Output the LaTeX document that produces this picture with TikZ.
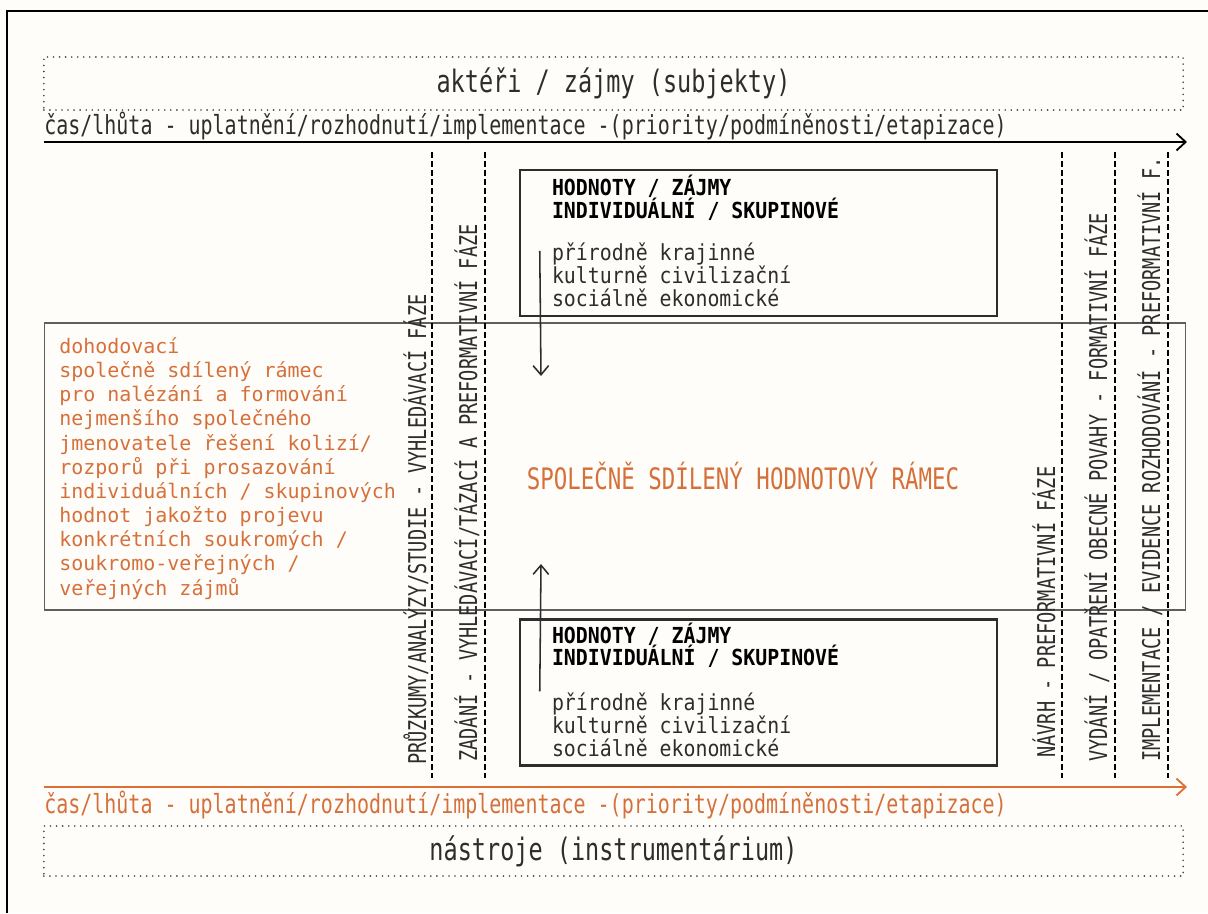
\documentclass[tikz,border=0pt]{standalone}
\usepackage{fontspec}
\usepackage{tikz}
\usetikzlibrary{arrows.meta,calc}
\newfontfamily\condmono[FakeStretch=0.76]{DejaVu Sans Mono}
\newfontfamily\boxmono[FakeStretch=0.9]{DejaVu Sans Mono}
\newfontfamily\plainmono{DejaVu Sans Mono}
\newcommand\tightskip{\setlength{\lineskiplimit}{-20pt}}
\definecolor{TxtGray}{RGB}{45,45,45}
\definecolor{LineGray}{RGB}{95,95,95}
\definecolor{DotGray}{RGB}{70,70,70}
\definecolor{OrgLine}{RGB}{222,110,52}
\definecolor{OrgText}{RGB}{214,112,58}
\definecolor{BgCream}{RGB}{254,253,250}
\tikzset{
  nd_dot/.style={
    rectangle, draw=DotGray, line width=1.3pt, line cap=round,
    dash pattern=on 0pt off 4.3pt, inner sep=0pt,
    text=TxtGray, font=\condmono\fontsize{22pt}{24pt}\selectfont},
  nd_val/.style={
    rectangle, draw=TxtGray, line width=1.7pt, inner sep=0pt,
    minimum width=11.925cm, minimum height=3.65cm},
  nd_head/.style={
    anchor=north west, align=left, inner sep=0pt, text=black,
    font=\tightskip\boxmono\bfseries\fontsize{15.7pt}{16pt}\selectfont},
  nd_list/.style={
    anchor=north west, align=left, inner sep=0pt, text=TxtGray,
    font=\tightskip\boxmono\fontsize{15.7pt}{16.3pt}\selectfont},
  nd_frame/.style={
    rectangle, draw=LineGray, line width=0.8pt, inner sep=0pt},
  nd_note/.style={
    anchor=north west, align=left, inner sep=0pt, text=OrgText,
    font=\plainmono\fontsize{14.2pt}{17.2pt}\selectfont},
  nd_core/.style={
    inner sep=0pt, text=OrgText,
    font=\condmono\fontsize{21pt}{22pt}\selectfont},
  nd_phase/.style={
    rotate=90, anchor=west, inner sep=0pt, text=TxtGray,
    font=\condmono\fontsize{17.4pt}{18pt}\selectfont},
  lbl_time/.style={
    anchor=base west, inner sep=0pt,
    font=\condmono\fontsize{18.7pt}{20pt}\selectfont},
  arr_time/.style={-{Straight Barb[length=6.5pt,width=12pt,line width=1.3pt]},line width=1.5pt},
  arr_val/.style={-{Straight Barb[length=6.5pt,width=11pt,line width=1.1pt]},line width=1.1pt,TxtGray},
  div_dash/.style={line width=1.5pt,dash pattern=on 4.2pt off 2.2pt},
}

\begin{document}
\begin{tikzpicture}[x=0.025cm,y=-0.025cm]

%% canvas and frame
\fill[BgCream] (0,0) rectangle (1208,913);
\useasboundingbox (0,0) rectangle (1208,913);
\draw[line width=2pt] (7,913)--(7,11)--(1208,11);

%% ── TOP: actors and time axis ───────────────────────────────
\node[nd_dot,minimum width=28.475cm,minimum height=1.325cm] at (613.5,83.5) (actors){aktéři / zájmy (subjekty)};
\coordinate (TL) at (44,142);
\coordinate (TR) at (1187,142);
\draw[arr_time] (TL)--(TR);
\node[lbl_time,text=TxtGray] at (44,134) (timeT){čas/lhůta - uplatnění/rozhodnutí/implementace -(priority/podmíněnosti/etapizace)};

%% ── shared frame ────────────────────────────────────────────
\node[nd_frame,minimum width=28.5cm,minimum height=7.175cm] at (615,466.5) (frame){};
\node[nd_note] at (59,337) (note){dohodovací\\
  společně sdílený rámec\\
  pro nalézání a formování\\
  nejmenšího společného\\
  jmenovatele řešení kolizí/\\
  rozporů při prosazování\\
  individuálních / skupinových\\
  hodnot jakožto projevu\\
  konkrétních soukromých /\\
  soukromo-veřejných /\\
  veřejných zájmů};
\node[nd_core] at (743,476) (core){SPOLEČNĚ SDÍLENÝ HODNOTOVÝ RÁMEC};

%% phase dividers
\foreach \x in {432,485,1062,1115,1168}
  \draw[div_dash] (\x,152)--(\x,778);

%% phase labels
\node[nd_phase] at (416,765) (ph1){PRŮZKUMY/ANALÝZY/STUDIE - VYHLEDÁVACÍ FÁZE};
\node[nd_phase] at (467,762) (ph2){ZADÁNÍ - VYHLEDÁVACÍ/TÁZACÍ A PREFORMATIVNÍ FÁZE};
\node[nd_phase] at (1044,758) (ph3){NÁVRH - PREFORMATIVNÍ FÁZE};
\node[nd_phase] at (1097,762) (ph4){VYDÁNÍ / OPATŘENÍ OBECNÉ POVAHY - FORMATIVNÍ FÁZE};
\node[nd_phase] at (1150,762) (ph5){IMPLEMENTACE / EVIDENCE ROZHODOVÁNÍ - PREFORMATIVNÍ F.};

%% ── values / interests boxes ────────────────────────────────
\node[nd_val] at (758.5,243) (valT){};
\node[nd_head] at ($(valT.north west)+(33,6)$) (valT_h){HODNOTY / ZÁJMY\\INDIVIDUÁLNÍ / SKUPINOVÉ};
\node[nd_list] at ($(valT.north west)+(33,74)$) (valT_l){přírodně krajinné\\kulturně civilizační\\sociálně ekonomické};

\node[nd_val] at (758.5,692.5) (valB){};
\node[nd_head] at ($(valB.north west)+(33,4)$) (valB_h){HODNOTY / ZÁJMY\\INDIVIDUÁLNÍ / SKUPINOVÉ};
\node[nd_list] at ($(valB.north west)+(33,74)$) (valB_l){přírodně krajinné\\kulturně civilizační\\sociálně ekonomické};

\coordinate (dnA) at ($(valT.north west)+(21,82)$);
\coordinate (dnB) at (541,376);
\coordinate (upA) at ($(valB.north west)+(21,73)$);
\coordinate (upB) at (541,564);
\draw[arr_val] (dnA)--(dnB);
\draw[arr_val] (upA)--(upB);

%% ── BOTTOM: time axis and tools ─────────────────────────────
\coordinate (BL) at (44,787);
\coordinate (BR) at (1187,787);
\draw[arr_time,OrgLine] (BL)--(BR);
\node[lbl_time,text=OrgText] at (44,813) (timeB){čas/lhůta - uplatnění/rozhodnutí/implementace -(priority/podmíněnosti/etapizace)};
\node[nd_dot,minimum width=28.475cm,minimum height=1.25cm] at (613.5,851) (tools){nástroje (instrumentárium)};

\end{tikzpicture}
\end{document}
